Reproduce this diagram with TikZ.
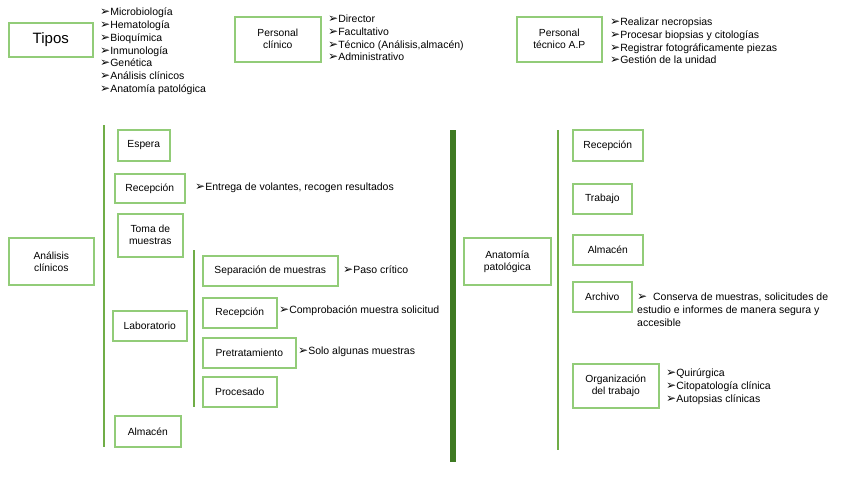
\documentclass[tikz,border=0pt]{standalone}
\usepackage{fontspec}
\setmainfont{Liberation Sans}
\newfontfamily\dv{DejaVu Sans}
\newcommand{\ar}{{\dv\fontsize{12}{8}\selectfont ➢}}
\definecolor{boxg}{RGB}{146,204,120}
\definecolor{lineg}{RGB}{112,173,71}
\definecolor{darkg}{RGB}{62,122,34}
\begin{document}
\begin{tikzpicture}[x=1pt,y=-1pt,
  bx/.style={draw=boxg,line width=1.6pt,fill=white,anchor=north west,inner sep=0pt,align=center,font=\fontsize{10.3}{12}\selectfont},
  lst/.style={anchor=north west,inner sep=0pt,align=left,font=\fontsize{10.5}{12.7}\selectfont},
  vl/.style={draw=lineg,line width=1.8pt},
  txt/.style={anchor=west,inner sep=0pt,font=\fontsize{10.5}{12}\selectfont}]
\useasboundingbox (0,0) rectangle (848,477);
% top row
\node[bx,minimum width=84pt,minimum height=34pt,font=\fontsize{15}{15}\selectfont] (tipos) at (8,22) {Tipos};
\node[lst] (tiposl) at (100,8) {\ar Microbiología\\ \ar Hematología\\ \ar Bioquímica\\ \ar Inmunología\\ \ar Genética\\ \ar Análisis clínicos\\ \ar Anatomía patológica};
\node[bx,minimum width=86pt,minimum height=45pt] (pc) at (234,16) {Personal\\ clínico};
\node[lst] (pcl) at (328,15) {\ar Director\\ \ar Facultativo\\ \ar Técnico (Análisis,almacén)\\ \ar Administrativo};
\node[bx,minimum width=85pt,minimum height=45pt] (pt) at (516,16) {Personal\\ técnico A.P};
\node[lst] (ptl) at (610,18) {\ar Realizar necropsias\\ \ar Procesar biopsias y citologías\\ \ar Registrar fotográficamente piezas\\ \ar Gestión de la unidad};
% left tree
\coordinate (l1a) at (104,125); \coordinate (l1b) at (104,447);
\draw[vl] (l1a) -- (l1b);
\node[bx,minimum width=85pt,minimum height=47pt] (ac) at (8,237) {Análisis\\ clínicos};
\node[bx,minimum width=52pt,minimum height=31pt] (esp) at (117,129) {Espera};
\node[bx,minimum width=70pt,minimum height=29pt] (rec1) at (114,173) {Recepción};
\node[txt] (rec1t) at (195,188) {\ar Entrega de volantes, recogen resultados};
\node[bx,minimum width=65pt,minimum height=43pt] (toma) at (117,213) {Toma de\\ muestras};
\node[bx,minimum width=74pt,minimum height=30pt] (lab) at (112,310) {Laboratorio};
\node[bx,minimum width=66pt,minimum height=31pt] (alm1) at (114,415) {Almacén};
\coordinate (l2a) at (194,250); \coordinate (l2b) at (194,407);
\draw[vl] (l2a) -- (l2b);
\node[bx,minimum width=135pt,minimum height=30pt] (sep) at (202,255) {Separación de muestras};
\node[txt] (sept) at (343,270) {\ar Paso crítico};
\node[bx,minimum width=74pt,minimum height=30pt] (rec2) at (202,297) {Recepción};
\node[txt] (rec2t) at (279,311) {\ar Comprobación muestra solicitud};
\node[bx,minimum width=93pt,minimum height=30pt] (pre) at (202,337) {Pretratamiento};
\node[txt] (pret) at (298,352) {\ar Solo algunas muestras};
\node[bx,minimum width=74pt,minimum height=30pt] (proc) at (202,376) {Procesado};
% divider
\coordinate (da) at (453,130); \coordinate (db) at (453,462);
\draw[draw=darkg,line width=5.5pt] (da) -- (db);
% right tree
\node[bx,minimum width=87pt,minimum height=47pt] (ap) at (463,237) {Anatomía\\ patológica};
\coordinate (l3a) at (558,130); \coordinate (l3b) at (558,450);
\draw[vl] (l3a) -- (l3b);
\node[bx,minimum width=70pt,minimum height=31pt] (rec3) at (572,129) {Recepción};
\node[bx,minimum width=59pt,minimum height=30pt] (trab) at (572,183) {Trabajo};
\node[bx,minimum width=70pt,minimum height=30pt] (alm2) at (572,234) {Almacén};
\node[bx,minimum width=59pt,minimum height=30pt] (arch) at (572,281) {Archivo};
\node[lst,font=\fontsize{10.5}{13}\selectfont] (archt) at (637,293) {\ar\ \ Conserva de muestras, solicitudes de\\ estudio e informes de manera segura y\\ accesible};
\node[bx,minimum width=86pt,minimum height=44pt] (org) at (572,363) {Organización\\ del trabajo};
\node[lst,font=\fontsize{10.5}{13}\selectfont] (orgl) at (666,369) {\ar Quirúrgica\\ \ar Citopatología clínica\\ \ar Autopsias clínicas};
\end{tikzpicture}
\end{document}
